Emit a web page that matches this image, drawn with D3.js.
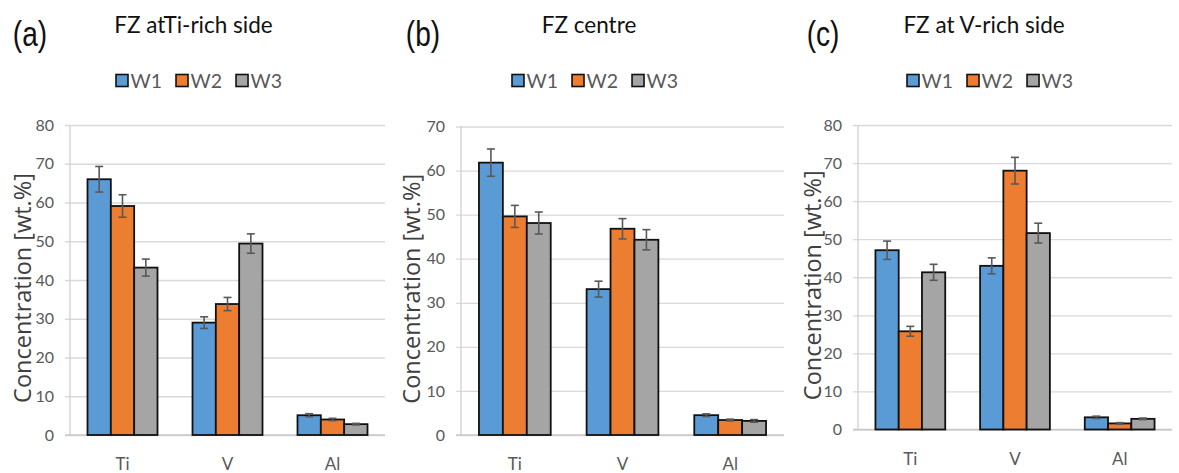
<!DOCTYPE html>
<html>
<head>
<meta charset="utf-8">
<script src="https://cdn.jsdelivr.net/npm/d3@7/dist/d3.min.js"></script>
<style>
  html, body { margin: 0; padding: 0; background: #fff; }
  svg { display: block; }
</style>
</head>
<body>
<svg id="chart" width="1179" height="473"></svg>
<script>
// Element concentrations in the fusion zone for three welds (W1–W3)
const categories = ["Ti", "V", "Al"];
const seriesNames = ["W1", "W2", "W3"];
const panelLetters = ["(a)", "(b)", "(c)"];
const panelTitles = ["FZ atTi-rich side", "FZ centre", "FZ at V-rich side"];
const axisTitle = "Concentration [wt.%]";
const yMaxA = 80, yMaxB = 70, yMaxC = 80;

// (a) FZ at Ti-rich side
const aW1 = [66.0, 29.0, 5.1];
const aW2 = [59.1, 33.8, 4.0];
const aW3 = [43.2, 49.4, 2.8];
const aErrW1 = [3.3, 1.5, 0.4];
const aErrW2 = [2.9, 1.7, 0.3];
const aErrW3 = [2.2, 2.5, 0.2];

// (b) FZ centre
const bW1 = [61.8, 33.1, 4.5];
const bW2 = [49.6, 46.8, 3.4];
const bW3 = [48.1, 44.3, 3.2];
const bErrW1 = [3.1, 1.8, 0.3];
const bErrW2 = [2.5, 2.3, 0.2];
const bErrW3 = [2.5, 2.3, 0.3];

// (c) FZ at V-rich side
const cW1 = [47.1, 43.0, 3.2];
const cW2 = [25.8, 68.0, 1.6];
const cW3 = [41.3, 51.6, 2.8];
const cErrW1 = [2.4, 2.1, 0.3];
const cErrW2 = [1.3, 3.5, 0.2];
const cErrW3 = [2.1, 2.6, 0.2];

const colors = ["#5b9bd5", "#ed7d31", "#a5a5a5"];
const textGray = "#595959";
const FONT = "Lato, 'Open Sans', sans-serif";
const TITLE_FONT = "'Open Sans', Lato, sans-serif";

const panels = [
  { letter: panelLetters[0], title: panelTitles[0], yMax: yMaxA,
    values: [aW1, aW2, aW3], errors: [aErrW1, aErrW2, aErrW3],
    x0: 70, x1: 385, yTop: 125, yBot: 435,
    letterX: 30, titleX: 193.5, legendX: 116, yTitleX: 30.5 },
  { letter: panelLetters[1], title: panelTitles[1], yMax: yMaxB,
    values: [bW1, bW2, bW3], errors: [bErrW1, bErrW2, bErrW3],
    x0: 461, x1: 784, yTop: 126.5, yBot: 435,
    letterX: 423, titleX: 589, legendX: 512, yTitleX: 420 },
  { letter: panelLetters[2], title: panelTitles[2], yMax: yMaxC,
    values: [cW1, cW2, cW3], errors: [cErrW1, cErrW2, cErrW3],
    x0: 858, x1: 1172, yTop: 125, yBot: 429.5,
    letterX: 823, titleX: 984, legendX: 907, yTitleX: 820.5 }
];

const svg = d3.select("#chart");

panels.forEach(p => {
  const g = svg.append("g");

  const y = d3.scaleLinear().domain([0, p.yMax]).range([p.yBot, p.yTop]);
  const x = d3.scaleBand().domain(categories).range([p.x0, p.x1]).padding(0);
  const xs = d3.scaleBand().domain(seriesNames).range([0, x.bandwidth()])
    .paddingInner(0).paddingOuter(0.75);

  // gridlines + tick labels
  const yAxis = d3.axisLeft(y).ticks(p.yMax / 10)
    .tickSize(-(p.x1 - p.x0) - 5).tickPadding(11);
  const ax = g.append("g")
    .attr("transform", `translate(${p.x0 - 5},0)`)
    .call(yAxis);
  ax.select(".domain").remove();
  ax.selectAll(".tick line")
    .attr("stroke", "#d9d9d9").attr("stroke-width", 1.3);
  ax.selectAll(".tick text")
    .attr("fill", textGray).attr("font-size", 16)
    .attr("font-family", FONT);

  // vertical axis line
  g.append("line")
    .attr("x1", p.x0).attr("x2", p.x0)
    .attr("y1", y(p.yMax)).attr("y2", y(0))
    .attr("stroke", "#d0d0d0").attr("stroke-width", 1.3);

  // bottom axis line
  g.append("line")
    .attr("x1", p.x0 - 5).attr("x2", p.x1)
    .attr("y1", y(0)).attr("y2", y(0))
    .attr("stroke", "#c8c8c8").attr("stroke-width", 1.5);

  // bars
  seriesNames.forEach((s, si) => {
    const vals = p.values[si];
    const errs = p.errors[si];
    const gs = g.append("g");
    gs.selectAll("rect").data(categories).join("rect")
      .attr("x", (c) => x(c) + xs(s))
      .attr("width", xs.bandwidth())
      .attr("y", (c, i) => y(vals[i]))
      .attr("height", (c, i) => y(0) - y(vals[i]))
      .attr("fill", colors[si])
      .attr("stroke", "#111")
      .attr("stroke-width", 1.8);

    // error bars
    const eg = gs.append("g").attr("stroke", "#595959").attr("stroke-width", 1.6);
    categories.forEach((c, i) => {
      const cx = x(c) + xs(s) + xs.bandwidth() / 2;
      const hi = y(vals[i] + errs[i]);
      const lo = y(vals[i] - errs[i]);
      eg.append("line").attr("x1", cx).attr("x2", cx).attr("y1", hi).attr("y2", lo);
      eg.append("line").attr("x1", cx - 4).attr("x2", cx + 4).attr("y1", hi).attr("y2", hi);
      eg.append("line").attr("x1", cx - 4).attr("x2", cx + 4).attr("y1", lo).attr("y2", lo);
    });
  });

  // category labels
  g.selectAll("text.cat").data(categories).join("text")
    .attr("class", "cat")
    .attr("x", c => x(c) + x.bandwidth() / 2)
    .attr("y", y(0) + 35)
    .attr("text-anchor", "middle")
    .attr("fill", textGray)
    .attr("font-size", 17)
    .attr("font-family", FONT)
    .text(c => c);

  // axis title
  g.append("text")
    .attr("transform", `translate(${p.yTitleX},${(p.yTop + p.yBot) / 2 + 8}) rotate(-90)`)
    .attr("text-anchor", "middle")
    .attr("fill", "#404040")
    .attr("font-size", 23.5)
    .attr("font-family", TITLE_FONT)
    .text(axisTitle);

  // panel letter
  g.append("text")
    .attr("transform", `translate(${p.letterX},46) scale(0.78,1)`)
    .attr("text-anchor", "middle")
    .attr("fill", "#111")
    .attr("font-size", 36)
    .attr("font-family", "'Liberation Sans', Arial, sans-serif")
    .text(p.letter);

  // panel title
  g.append("text")
    .attr("x", p.titleX).attr("y", 33)
    .attr("text-anchor", "middle")
    .attr("fill", "#111")
    .attr("font-size", 22.5)
    .attr("font-family", FONT)
    .text(p.title);

  // legend
  const lg = g.append("g").attr("transform", `translate(${p.legendX},74)`);
  let lx = 0;
  seriesNames.forEach((s, si) => {
    lg.append("rect")
      .attr("x", lx).attr("y", 0.5).attr("width", 12).attr("height", 12)
      .attr("fill", colors[si]).attr("stroke", "#111").attr("stroke-width", 1.6);
    const t = lg.append("text")
      .attr("x", lx + 14.5).attr("y", 13.5)
      .attr("fill", textGray)
      .attr("font-size", 19.5)
      .attr("font-family", FONT)
      .text(s);
    lx += 14.5 + t.node().getComputedTextLength() + 14;
  });
});
</script>
</body>
</html>
